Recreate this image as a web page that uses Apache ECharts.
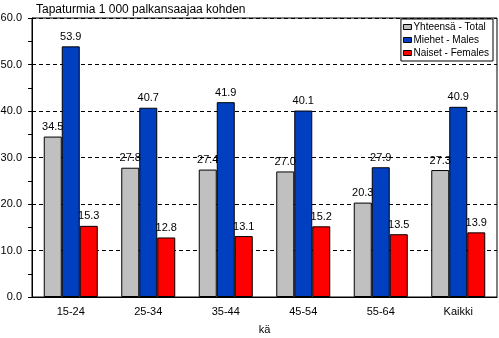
<!DOCTYPE html>
<html>
<head>
<meta charset="utf-8">
<script src="https://cdn.jsdelivr.net/npm/echarts@6/dist/echarts.min.js"></script>
<style>html,body{margin:0;padding:0;background:#fff}#c{width:499px;height:338px}</style>
</head>
<body>
<div id="c"></div>
<script>
var categories = ['15-24', '25-34', '35-44', '45-54', '55-64', 'Kaikki'];
var totalValues = [34.5, 27.8, 27.4, 27.0, 20.3, 27.3];
var maleValues = [53.9, 40.7, 41.9, 40.1, 27.9, 40.9];
var femaleValues = [15.3, 12.8, 13.1, 15.2, 13.5, 13.9];
var seriesNames = ['Yhteensä - Total', 'Miehet - Males', 'Naiset - Females'];
var titleText = 'Tapaturmia 1 000 palkansaajaa kohden';
var xAxisName = 'kä';

var FONT = '"Liberation Sans", Arial, sans-serif';
var chart = echarts.init(document.getElementById('c'), null, {renderer: 'canvas'});
function mk(name, data, color) {
  return {
    name: name, type: 'bar', data: data, barWidth: 18, barGap: '0%',
    itemStyle: {color: color, borderColor: '#000', borderWidth: 1},
    label: {show: true, position: 'top', distance: 4, color: '#000', fontSize: 11, fontFamily: FONT,
      formatter: function (p) { return p.value.toFixed(1); }}
  };
}
chart.setOption({
  animation: false,
  backgroundColor: '#fff',
  title: {text: titleText, left: 31, top: -1,
    textStyle: {fontSize: 12, fontWeight: 'normal', color: '#000', fontFamily: FONT}},
  legend: {
    orient: 'vertical', right: 6, top: 19, itemWidth: 8, itemHeight: 5, itemGap: 3,
    padding: [3, 4, 3, 2], borderColor: '#000', borderWidth: 1, backgroundColor: '#fff',
    icon: 'rect', textStyle: {fontSize: 10, color: '#000', fontFamily: FONT, padding: [0, 0, 0, -3]},
    itemStyle: {borderColor: '#000', borderWidth: 1},
    data: seriesNames
  },
  grid: {left: 32, right: 2, top: 18, bottom: 41, containLabel: false, outerBoundsMode: 'none',
    show: true, borderColor: '#000', borderWidth: 1, backgroundColor: 'transparent'},
  xAxis: {
    type: 'category', data: categories,
    name: xAxisName, nameLocation: 'middle', nameGap: 27,
    nameTextStyle: {fontSize: 11, color: '#000', fontFamily: FONT},
    axisLine: {lineStyle: {color: '#000', width: 1}}, axisTick: {show: false},
    axisLabel: {fontSize: 11, color: '#000', fontFamily: FONT, margin: 9}
  },
  yAxis: {
    type: 'value', min: 0, max: 60, interval: 10,
    axisLine: {show: true, lineStyle: {color: '#000'}},
    axisTick: {show: true, inside: false, length: 4, lineStyle: {color: '#000'}},
    minorTick: {show: true, splitNumber: 2, length: 4, lineStyle: {color: '#000'}},
    axisLabel: {fontSize: 11, color: '#000', fontFamily: FONT, margin: 10,
      formatter: function (v) { return v.toFixed(1); }},
    splitLine: {show: true, lineStyle: {color: '#000', type: [4, 3], width: 1}}
  },
  series: [
    mk(seriesNames[0], totalValues, '#C0C0C0'),
    mk(seriesNames[1], maleValues, '#0040C0'),
    mk(seriesNames[2], femaleValues, '#FF0000')
  ]
});
</script>
</body>
</html>
